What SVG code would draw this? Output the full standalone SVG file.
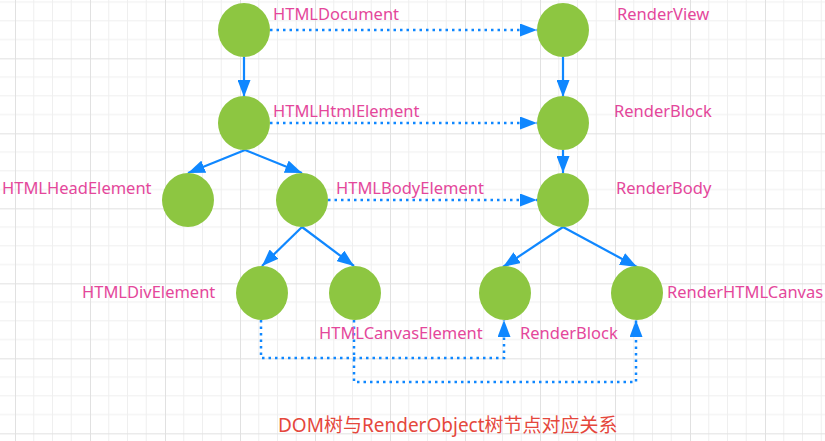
<svg xmlns="http://www.w3.org/2000/svg" width="825" height="441" viewBox="0 0 825 441">
<defs>
<pattern id="grid" x="15" y="-16.67" width="75" height="75" patternUnits="userSpaceOnUse">
<path d="M18.75,0V75M37.5,0V75M56.25,0V75M0,18.75H75M0,37.5H75M0,56.25H75" stroke="#efefef" stroke-width="1" fill="none"/>
<path d="M0.5,0V75M0,0.5H75" stroke="#e1e1e1" stroke-width="1" fill="none"/>
</pattern>
<marker id="arr" markerUnits="userSpaceOnUse" markerWidth="18" markerHeight="13" refX="17" refY="6.5" orient="auto">
<path d="M0,0 L17,6.5 L0,13 z" fill="#0f87ff"/>
</marker>
<style>
.node{fill:#8dc641;}
.lbl{font-family:"Noto Sans","Open Sans","DejaVu Sans",sans-serif;font-size:16.5px;fill:#e4479b;}
.solid{stroke:#0f87ff;stroke-width:2.2;fill:none;marker-end:url(#arr);}
.dot{stroke:#0f87ff;stroke-width:2.5;fill:none;stroke-dasharray:2.5 4;marker-end:url(#arr);}
.title{font-family:"Noto Sans","Noto Sans CJK SC",sans-serif;font-size:19px;fill:#e5473c;}
</style>
</defs>
<rect width="825" height="441" fill="#ffffff"/>
<rect width="825" height="441" fill="url(#grid)"/>

<g id="connectors">
<path class="solid" d="M244,57 V97"/>
<path class="solid" d="M563,57 V97"/>
<path class="solid" d="M563,150 V173"/>
<path class="solid" d="M245,150 L188,173"/>
<path class="solid" d="M245,150 L302,173"/>
<path class="solid" d="M302,227 L262,266"/>
<path class="solid" d="M302,227 L354,266"/>
<path class="solid" d="M563,227 L503,267"/>
<path class="solid" d="M563,227 L637,267"/>
<path class="dot" d="M270,30 H537"/>
<path class="dot" d="M270,123 H537"/>
<path class="dot" d="M328,200 H537"/>
<path class="dot" d="M261,320 V358 H504 V320"/>
<path class="dot" d="M354,320 V382 H636 V320"/>
</g>

<g id="HTMLDocument"><ellipse class="node" cx="244" cy="30" rx="26" ry="27"/><text class="lbl" x="273" y="20">HTMLDocument</text></g>
<g id="HTMLHtmlElement"><ellipse class="node" cx="244" cy="123" rx="26" ry="27"/><text class="lbl" x="273" y="117">HTMLHtmlElement</text></g>
<g id="HTMLHeadElement"><ellipse class="node" cx="188" cy="200" rx="26" ry="27"/><text class="lbl" x="2" y="194">HTMLHeadElement</text></g>
<g id="HTMLBodyElement"><ellipse class="node" cx="302" cy="200" rx="26" ry="27"/><text class="lbl" x="336" y="194">HTMLBodyElement</text></g>
<g id="HTMLDivElement"><ellipse class="node" cx="262" cy="293" rx="26" ry="27"/><text class="lbl" x="82" y="298">HTMLDivElement</text></g>
<g id="HTMLCanvasElement"><ellipse class="node" cx="355" cy="293" rx="26" ry="27"/><text class="lbl" x="319" y="339">HTMLCanvasElement</text></g>
<g id="RenderView"><ellipse class="node" cx="563" cy="30" rx="26" ry="27"/><text class="lbl" x="617" y="20">RenderView</text></g>
<g id="RenderBlock"><ellipse class="node" cx="563" cy="123" rx="26" ry="27"/><text class="lbl" x="614" y="117">RenderBlock</text></g>
<g id="RenderBody"><ellipse class="node" cx="563" cy="200" rx="26" ry="27"/><text class="lbl" x="616" y="194">RenderBody</text></g>
<g id="RenderBlock2"><ellipse class="node" cx="505" cy="293" rx="26" ry="27"/><text class="lbl" x="520" y="339">RenderBlock</text></g>
<g id="RenderHTMLCanvas"><ellipse class="node" cx="637" cy="293" rx="26" ry="27"/><text class="lbl" x="667" y="298">RenderHTMLCanvas</text></g>

<text class="title" x="278" y="432">DOM树与RenderObject树节点对应关系</text>
</svg>
